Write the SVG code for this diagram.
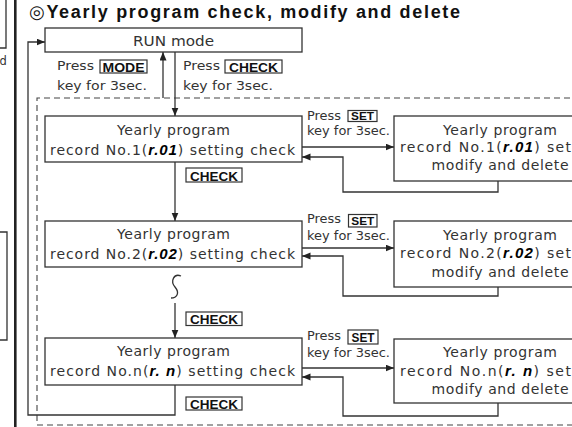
<svg xmlns="http://www.w3.org/2000/svg" width="572" height="427" viewBox="0 0 572 427">
<defs>
<marker id="ah" markerUnits="userSpaceOnUse" markerWidth="9" markerHeight="8" refX="8.5" refY="3.5" orient="auto"><path d="M0,0 L8.5,3.5 L0,7 z" fill="#222"/></marker>
<style>
.box{fill:#fff;stroke:#333;stroke-width:1.3}
.t{font-family:"DejaVu Sans","Liberation Sans",sans-serif;font-size:14px;fill:#333}
.p{font-size:13px}
.s{font-size:11.5px}
.k{font-family:"Liberation Sans","DejaVu Sans",sans-serif;font-weight:bold;font-size:13px;fill:#111}
.ks{font-size:11px}
.kb{fill:#fff;stroke:#333;stroke-width:1.2}
.seg{font-family:"Liberation Sans",sans-serif;font-weight:bold;font-style:italic;font-size:15px;fill:#000}
.ln{fill:none;stroke:#333;stroke-width:1.3}
.dash{fill:none;stroke:#444;stroke-width:1.1;stroke-dasharray:6 4}
.title{font-family:"Liberation Sans","DejaVu Sans",sans-serif;font-weight:bold;font-size:18px;fill:#111}
</style>
</defs>
<rect width="572" height="427" fill="#fff"/>

<g id="left-edge">
<path class="ln" d="M0,48 H6 V0"/>
<text class="t s" x="-0.5" y="65">d</text>
<path class="ln" d="M0,232 H7 V340 H0"/>
<line x1="15.3" y1="0" x2="15.3" y2="427" stroke="#222" stroke-width="2.6"/>
</g>

<g id="frame">
<path class="dash" d="M590,98 H37 V425 H590"/>
</g>

<g id="title">
<text class="title" x="29" y="17.5" textLength="431" lengthAdjust="spacing">◎Yearly program check, modify and delete</text>
</g>

<g id="connectors">
<path class="ln" d="M175,52 V116" marker-end="url(#ah)"/>
<path class="ln" d="M163,98 V52" marker-end="url(#ah)"/>
<path class="ln" d="M175,162 V221" marker-end="url(#ah)"/>
<path class="ln" d="M181,276 C174,273 170,281 175,287 C180,293 177,298 171,298"/>
<path class="ln" d="M175,303 V338" marker-end="url(#ah)"/>
<path class="ln" d="M175,385 V415 H28 V42 H45" marker-end="url(#ah)"/>
<path class="ln" d="M302,147 H394" marker-end="url(#ah)"/>
<path class="ln" d="M498,181 V192 H343 V157 H302" marker-end="url(#ah)"/>
<path class="ln" d="M302,248 H394" marker-end="url(#ah)"/>
<path class="ln" d="M498,287 V296 H343 V256 H302" marker-end="url(#ah)"/>
<path class="ln" d="M302,368 H394" marker-end="url(#ah)"/>
<path class="ln" d="M498,403 V416 H343 V377 H302" marker-end="url(#ah)"/>
</g>

<g id="run-mode">
<rect class="box" x="45" y="28" width="257" height="24"/>
<text class="t" x="173.5" y="45.5" text-anchor="middle" textLength="81" lengthAdjust="spacingAndGlyphs">RUN mode</text>
</g>

<g id="label-mode">
<text class="t p" x="57" y="70" textLength="37" lengthAdjust="spacingAndGlyphs">Press</text>
<rect class="kb" x="100" y="60" width="47" height="13"/>
<text class="k" x="123.5" y="71.5" text-anchor="middle" textLength="42" lengthAdjust="spacingAndGlyphs">MODE</text>
<text class="t p" x="57" y="89.5" textLength="90" lengthAdjust="spacingAndGlyphs">key for 3sec.</text>
</g>

<g id="label-check">
<text class="t p" x="183" y="70" textLength="37" lengthAdjust="spacingAndGlyphs">Press</text>
<rect class="kb" x="225" y="60" width="57" height="13"/>
<text class="k" x="253.5" y="71.5" text-anchor="middle" textLength="49" lengthAdjust="spacingAndGlyphs">CHECK</text>
<text class="t p" x="183" y="89.5" textLength="90" lengthAdjust="spacingAndGlyphs">key for 3sec.</text>
</g>

<g id="check-1">
<rect class="box" x="45" y="116" width="257" height="46"/>
<text class="t" x="173.5" y="135" text-anchor="middle" textLength="113" lengthAdjust="spacing">Yearly program</text>
<text class="t" x="172.5" y="155" text-anchor="middle" textLength="245" lengthAdjust="spacing">record No.1(<tspan class="seg">r.01</tspan>) setting check</text>
</g>

<g id="key-check-1">
<rect class="kb" x="186" y="168" width="56" height="14"/>
<text class="k" x="214" y="180.5" text-anchor="middle" textLength="48" lengthAdjust="spacingAndGlyphs">CHECK</text>
</g>

<g id="check-2">
<rect class="box" x="45" y="221" width="257" height="46"/>
<text class="t" x="173.5" y="238.5" text-anchor="middle" textLength="113" lengthAdjust="spacing">Yearly program</text>
<text class="t" x="172.5" y="258.5" text-anchor="middle" textLength="245" lengthAdjust="spacing">record No.2(<tspan class="seg">r.02</tspan>) setting check</text>
</g>

<g id="key-check-2">
<rect class="kb" x="186" y="312" width="56" height="13.5"/>
<text class="k" x="214" y="324" text-anchor="middle" textLength="48" lengthAdjust="spacingAndGlyphs">CHECK</text>
</g>

<g id="check-n">
<rect class="box" x="45" y="338" width="257" height="47"/>
<text class="t" x="173.5" y="355.5" text-anchor="middle" textLength="113" lengthAdjust="spacing">Yearly program</text>
<text class="t" x="172.5" y="375.5" text-anchor="middle" textLength="245" lengthAdjust="spacing">record No.n(<tspan class="seg">r. n</tspan>) setting check</text>
</g>

<g id="key-check-3">
<rect class="kb" x="186" y="397" width="56" height="13"/>
<text class="k" x="214" y="408.5" text-anchor="middle" textLength="48" lengthAdjust="spacingAndGlyphs">CHECK</text>
</g>

<g id="label-set-1">
<text class="t s" x="307" y="119.5" textLength="34" lengthAdjust="spacingAndGlyphs">Press</text>
<rect class="kb" x="348" y="110.5" width="29" height="11"/>
<text class="k ks" x="362.5" y="120" text-anchor="middle" textLength="23" lengthAdjust="spacingAndGlyphs">SET</text>
<text class="t s" x="307" y="135" textLength="83" lengthAdjust="spacingAndGlyphs">key for 3sec.</text>
</g>

<g id="label-set-2">
<text class="t s" x="307" y="223" textLength="34" lengthAdjust="spacingAndGlyphs">Press</text>
<rect class="kb" x="348.5" y="214.5" width="28.5" height="12.5"/>
<text class="k ks" x="362.8" y="225" text-anchor="middle" textLength="23" lengthAdjust="spacingAndGlyphs">SET</text>
<text class="t s" x="307" y="240" textLength="83" lengthAdjust="spacingAndGlyphs">key for 3sec.</text>
</g>

<g id="label-set-3">
<text class="t s" x="307" y="339.5" textLength="34" lengthAdjust="spacingAndGlyphs">Press</text>
<rect class="kb" x="348" y="330" width="30" height="14"/>
<text class="k" x="363" y="342" text-anchor="middle" textLength="23" lengthAdjust="spacingAndGlyphs">SET</text>
<text class="t s" x="307" y="357" textLength="83" lengthAdjust="spacingAndGlyphs">key for 3sec.</text>
</g>

<g id="modify-1">
<rect class="box" x="394" y="116" width="220" height="65"/>
<text class="t" x="500" y="134.5" text-anchor="middle" textLength="114" lengthAdjust="spacing">Yearly program</text>
<text class="t" x="400" y="152" textLength="171" lengthAdjust="spacing">record No.1(<tspan class="seg">r.01</tspan>) set</text>
<text class="t" x="500" y="170" text-anchor="middle" textLength="137" lengthAdjust="spacing">modify and delete</text>
</g>

<g id="modify-2">
<rect class="box" x="394" y="221" width="220" height="66"/>
<text class="t" x="500" y="240" text-anchor="middle" textLength="114" lengthAdjust="spacing">Yearly program</text>
<text class="t" x="400" y="258" textLength="171" lengthAdjust="spacing">record No.2(<tspan class="seg">r.02</tspan>) set</text>
<text class="t" x="500" y="277" text-anchor="middle" textLength="137" lengthAdjust="spacing">modify and delete</text>
</g>

<g id="modify-n">
<rect class="box" x="394" y="339" width="220" height="64"/>
<text class="t" x="500" y="357" text-anchor="middle" textLength="114" lengthAdjust="spacing">Yearly program</text>
<text class="t" x="400" y="376" textLength="171" lengthAdjust="spacing">record No.n(<tspan class="seg">r. n</tspan>) set</text>
<text class="t" x="500" y="394" text-anchor="middle" textLength="137" lengthAdjust="spacing">modify and delete</text>
</g>
</svg>
